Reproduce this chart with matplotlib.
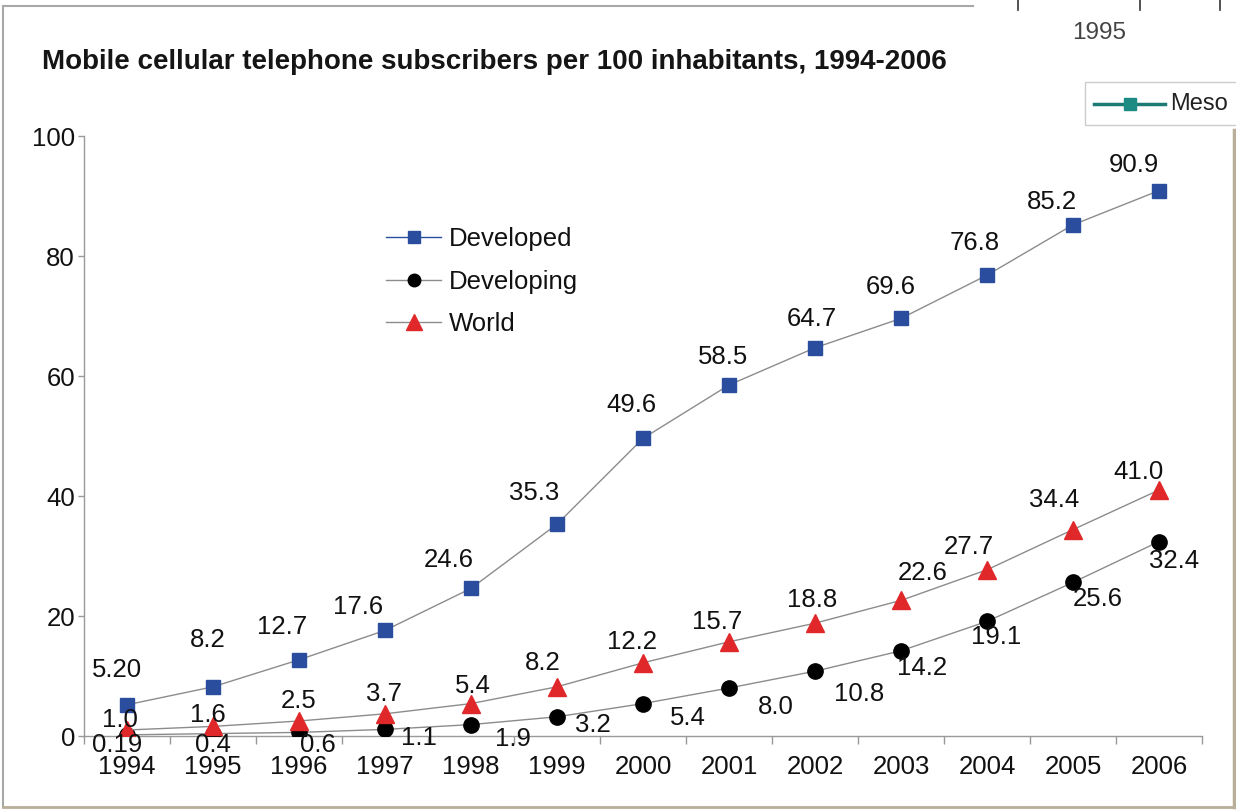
import matplotlib
matplotlib.use("Agg")
import matplotlib.pyplot as plt
from matplotlib.lines import Line2D
from matplotlib.patches import Rectangle

plt.rcParams['font.family'] = ['Liberation Sans', 'DejaVu Sans']

# ---------------- data ----------------
years = ["1994", "1995", "1996", "1997", "1998", "1999", "2000",
         "2001", "2002", "2003", "2004", "2005", "2006"]
developed = [5.20, 8.2, 12.7, 17.6, 24.6, 35.3, 49.6, 58.5, 64.7, 69.6, 76.8, 85.2, 90.9]
developing = [0.19, 0.4, 0.6, 1.1, 1.9, 3.2, 5.4, 8.0, 10.8, 14.2, 19.1, 25.6, 32.4]
world = [1.0, 1.6, 2.5, 3.7, 5.4, 8.2, 12.2, 15.7, 18.8, 22.6, 27.7, 34.4, 41.0]
developed_lbl = ["5.20", "8.2", "12.7", "17.6", "24.6", "35.3", "49.6", "58.5",
                 "64.7", "69.6", "76.8", "85.2", "90.9"]
developing_lbl = ["0.19", "0.4", "0.6", "1.1", "1.9", "3.2", "5.4", "8.0",
                  "10.8", "14.2", "19.1", "25.6", "32.4"]
world_lbl = ["1.0", "1.6", "2.5", "3.7", "5.4", "8.2", "12.2", "15.7",
             "18.8", "22.6", "27.7", "34.4", "41.0"]
series_names = ["Developed", "Developing", "World"]
yticks = [0, 20, 40, 60, 80, 100]

# ---------------- layout (label offsets in pixels) ----------------
off_developed = [(-10, 35), (-5, 47), (-17, 33), (-27, 23), (-22, 28), (-23, 31), (-12, 33),
                 (-6, 28), (-3, 29), (-10, 31), (-12, 32), (-21, 23), (-25, 26)]
off_world = [(-7, 10), (-5, 11), (0, 20), (-1, 20), (2, 18), (-14, 24), (-11, 21),
             (-12, 20), (-3, 23), (22, 27), (-18, 23), (-19, 30), (-20, 18)]
off_developing = [(-10, -10), (0, -11), (19, -13), (34, -9), (42, -14), (36, -8), (45, -14),
                  (47, -19), (44, -23), (21, -17), (9, -16), (25, -17), (15, -19)]

W, H = 1236, 810
fig = plt.figure(figsize=(W / 100, H / 100), dpi=100)
fig.patch.set_facecolor("white")

def fx(px):
    return px / W

def fy(py):
    return 1 - py / H

ax = fig.add_axes([fx(84), fy(736), fx(1202) - fx(84), fy(136) - fy(736)])
ax.set_facecolor("none")

x = list(range(len(years)))
line_col = "#8c8c8c"
blue = "#2a4d9e"
red = "#e0282a"

ax.plot(x, developed, color=line_col, lw=1.0, marker="s", ms=10.5,
        mfc=blue, mec=blue, label=series_names[0], zorder=3)
ax.plot(x, developing, color=line_col, lw=1.0, marker="o", ms=11,
        mfc="black", mec="black", label=series_names[1], zorder=3)
ax.plot(x, world, color=line_col, lw=1.0, marker="^", ms=13,
        mfc=red, mec=red, label=series_names[2], zorder=3)

fs = 18.5
for vals, lbls, offs in [(developed, developed_lbl, off_developed),
                         (world, world_lbl, off_world),
                         (developing, developing_lbl, off_developing)]:
    for xi, v, t, (dx, dy) in zip(x, vals, lbls, offs):
        ax.annotate(t, (xi, v), xytext=(dx, dy), textcoords="offset pixels",
                    ha="center", va="center", fontsize=fs, color="#111111", zorder=4)

ax.set_xlim(-0.5, len(years) - 0.5)
ax.set_ylim(0, 100)
ax.set_yticks(yticks)
ax.set_yticklabels([str(v) for v in yticks])
ax.set_xticks([i - 0.5 for i in range(len(years) + 1)])
ax.set_xticklabels([])
ax.set_xticks(x, minor=True)
ax.set_xticklabels(years, minor=True)
ax.tick_params(axis="x", which="major", direction="out", length=6, color="#999999", width=1)
ax.tick_params(axis="x", which="minor", length=0, pad=14, labelsize=fs, labelcolor="#111111")
ax.tick_params(axis="y", direction="out", length=4.5, color="#999999", width=1,
               pad=2, labelsize=fs, labelcolor="#111111")
for s in ["top", "right"]:
    ax.spines[s].set_visible(False)
for s in ["left", "bottom"]:
    ax.spines[s].set_color("#999999")
    ax.spines[s].set_linewidth(1)
ax.spines["bottom"].set_zorder(1)

leg = ax.legend(loc="upper left", bbox_to_anchor=(fx(386), fy(227)),
                bbox_transform=fig.transFigure, frameon=False, fontsize=fs,
                handlelength=2.15, handletextpad=0.3, labelspacing=0.72,
                borderpad=0, borderaxespad=0)
for h in leg.legend_handles:
    h.set_markersize(9)
leg.legend_handles[0].set_color(blue)
leg.legend_handles[0].set_markerfacecolor(blue)
leg.legend_handles[2].set_markersize(11)
for t in leg.get_texts():
    t.set_color("#111111")

fig.text(fx(42), fy(62), "Mobile cellular telephone subscribers per 100 inhabitants, 1994-2006",
         fontsize=20, fontweight="bold", ha="left", va="center", color="#151515")

# ---------------- frame of the chart picture ----------------
gray = "#a8a8a8"
tan = "#b9ae98"
fig.add_artist(Line2D([fx(3), fx(973)], [fy(6), fy(6)], color=gray, lw=1.5))
fig.add_artist(Line2D([fx(3), fx(3)], [fy(6), fy(807)], color=gray, lw=1.5))
fig.add_artist(Line2D([fx(3), fx(1234)], [fy(807), fy(807)], color=tan, lw=2))
fig.add_artist(Line2D([fx(1234), fx(1234)], [fy(130), fy(807)], color=tan, lw=2.5))

# ---------------- fragment of another chart at top right ----------------
fig.text(fx(1099), fy(33), "1995", fontsize=17.5, ha="center", va="center", color="#444444")
for px in [1018, 1140, 1220]:
    fig.add_artist(Line2D([fx(px), fx(px)], [fy(0), fy(10)], color="#333333", lw=1.2))
fig.add_artist(Rectangle((fx(1085), fy(125)), fx(160), fy(82) - fy(125),
                         transform=fig.transFigure, facecolor="white",
                         edgecolor="#cccccc", lw=1))
fig.add_artist(Line2D([fx(1094), fx(1165)], [fy(104), fy(104)], color="#1e7a74", lw=2.5))
fig.add_artist(Line2D([fx(1130)], [fy(104)], color="#1e8a84", marker="s", ms=9, lw=0))
fig.text(fx(1170), fy(104), "Meso", fontsize=17, ha="left", va="center", color="#222222")

fig.savefig("out.png", dpi=100)
